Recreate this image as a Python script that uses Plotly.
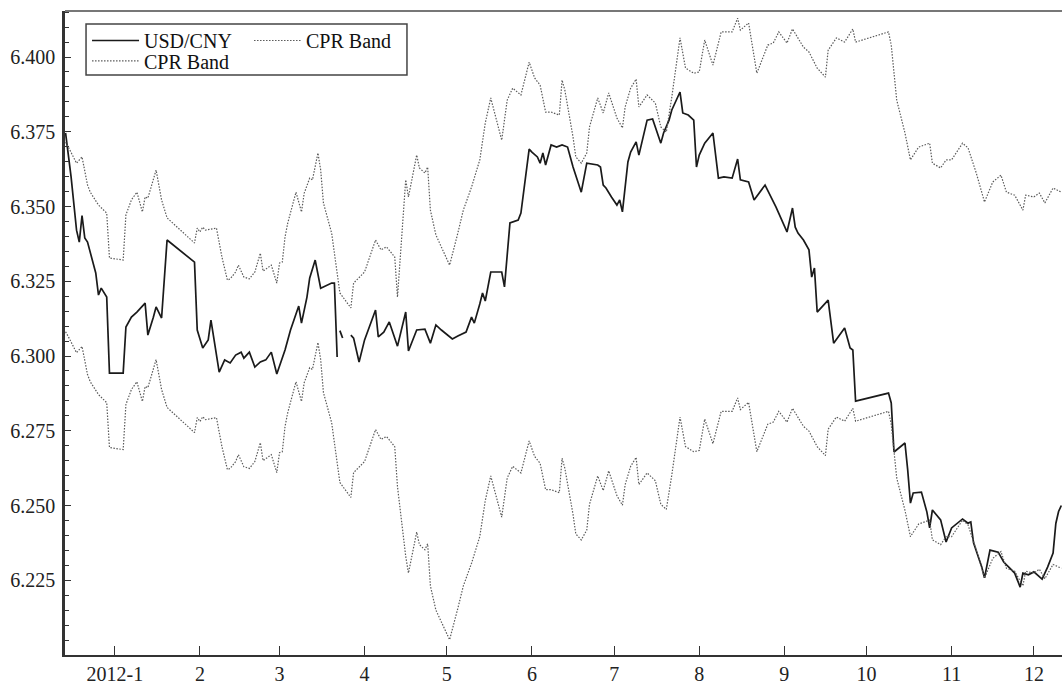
import plotly.graph_objects as go

# ---------------- data ----------------
usd_dates = [
    "2011-12-14", "2011-12-16", "2011-12-18", "2011-12-19", "2011-12-20", "2011-12-21",
    "2011-12-22", "2011-12-23", "2011-12-25", "2011-12-26", "2011-12-27", "2011-12-29",
    "2011-12-30", "2012-01-04", "2012-01-05", "2012-01-07", "2012-01-09", "2012-01-12",
    "2012-01-13", "2012-01-15", "2012-01-16", "2012-01-18", "2012-01-20", "2012-01-30",
    "2012-01-31", "2012-02-02", "2012-02-04", "2012-02-05", "2012-02-08", "2012-02-10",
    "2012-02-12", "2012-02-14", "2012-02-16", "2012-02-17", "2012-02-19", "2012-02-21",
    "2012-02-23", "2012-02-25", "2012-02-27", "2012-02-29", "2012-03-02", "2012-03-03",
    "2012-03-05", "2012-03-08", "2012-03-09", "2012-03-11", "2012-03-12", "2012-03-14",
    "2012-03-16", "2012-03-20", "2012-03-21", "2012-03-22", "2012-03-22 18:00",
    "2012-03-23", "2012-03-24", "2012-03-25",
    "2012-03-27", "2012-03-28", "2012-03-30", "2012-04-01", "2012-04-05", "2012-04-06",
    "2012-04-08", "2012-04-10", "2012-04-11", "2012-04-13", "2012-04-16", "2012-04-17",
    "2012-04-20", "2012-04-23", "2012-04-25", "2012-04-27", "2012-04-29", "2012-05-03",
    "2012-05-05", "2012-05-08", "2012-05-10", "2012-05-11", "2012-05-13", "2012-05-14",
    "2012-05-15", "2012-05-17", "2012-05-21", "2012-05-22", "2012-05-24", "2012-05-27",
    "2012-05-28", "2012-05-31", "2012-06-01", "2012-06-03", "2012-06-04", "2012-06-05",
    "2012-06-06", "2012-06-08", "2012-06-10", "2012-06-12", "2012-06-14", "2012-06-16",
    "2012-06-19", "2012-06-21", "2012-06-25", "2012-06-26", "2012-06-27", "2012-06-28",
    "2012-06-30", "2012-07-02", "2012-07-03", "2012-07-04", "2012-07-06", "2012-07-07",
    "2012-07-09", "2012-07-10", "2012-07-13", "2012-07-15", "2012-07-18", "2012-07-19",
    "2012-07-21", "2012-07-22", "2012-07-25", "2012-07-26", "2012-07-28", "2012-07-30",
    "2012-07-31", "2012-08-01", "2012-08-03", "2012-08-06", "2012-08-08", "2012-08-10",
    "2012-08-13", "2012-08-15", "2012-08-16", "2012-08-19", "2012-08-21", "2012-08-25",
    "2012-08-29", "2012-09-02", "2012-09-04", "2012-09-05", "2012-09-06", "2012-09-08",
    "2012-09-10", "2012-09-11", "2012-09-12", "2012-09-13", "2012-09-17", "2012-09-19",
    "2012-09-23", "2012-09-25", "2012-09-26", "2012-09-27", "2012-10-09", "2012-10-10",
    "2012-10-11", "2012-10-15", "2012-10-16", "2012-10-17", "2012-10-18", "2012-10-21",
    "2012-10-23", "2012-10-24", "2012-10-25", "2012-10-28", "2012-10-30", "2012-11-01",
    "2012-11-05", "2012-11-07", "2012-11-08", "2012-11-09", "2012-11-12", "2012-11-13",
    "2012-11-15", "2012-11-18", "2012-11-20", "2012-11-22", "2012-11-24", "2012-11-26",
    "2012-11-27", "2012-11-29", "2012-12-01", "2012-12-04", "2012-12-06", "2012-12-08",
    "2012-12-09", "2012-12-10", "2012-12-11",
]
usd_cny = [
    6.3746, 6.3600, 6.3421, 6.3381, 6.3470, 6.3395,
    6.3381, 6.3344, 6.3278, 6.3204, 6.3227, 6.3197,
    6.2943, 6.2943, 6.3097, 6.3130, 6.3147, 6.3177,
    6.3070, 6.3130, 6.3164, 6.3127, 6.3388, 6.3314,
    6.3087, 6.3027, 6.3054, 6.3120, 6.2946, 6.2987,
    6.2977, 6.3003, 6.3013, 6.2993, 6.3013, 6.2963,
    6.2980, 6.2987, 6.3013, 6.2940, 6.2997, 6.3020,
    6.3087, 6.3167, 6.3110, 6.3197, 6.3261, 6.3321,
    6.3227, 6.3244, 6.3244, 6.2997, None,
    6.3085, 6.3060, None,
    6.3070, 6.3060, 6.2980, 6.3054, 6.3154, 6.3064,
    6.3080, 6.3114, 6.3087, 6.3033, 6.3147, 6.3017,
    6.3087, 6.3090, 6.3043, 6.3104, 6.3087, 6.3057,
    6.3067, 6.3080, 6.3130, 6.3110, 6.3174, 6.3211,
    6.3184, 6.3281, 6.3281, 6.3231, 6.3445, 6.3455,
    6.3478, 6.3692, 6.3682, 6.3666, 6.3645, 6.3679,
    6.3639, 6.3706, 6.3699, 6.3706, 6.3699, 6.3632,
    6.3548, 6.3645, 6.3639, 6.3632, 6.3572, 6.3562,
    6.3532, 6.3505, 6.3522, 6.3482, 6.3649, 6.3682,
    6.3716, 6.3672, 6.3789, 6.3793, 6.3712, 6.3746,
    6.3789, 6.3823, 6.3883, 6.3813, 6.3806, 6.3789,
    6.3632, 6.3672, 6.3712, 6.3746, 6.3595, 6.3599,
    6.3595, 6.3659, 6.3589, 6.3582, 6.3522, 6.3572,
    6.3498, 6.3415, 6.3495, 6.3431, 6.3411, 6.3388,
    6.3355, 6.3264, 6.3294, 6.3147, 6.3187, 6.3043,
    6.3094, 6.3027, 6.3020, 6.2849, 6.2876, 6.2843,
    6.2679, 6.2709, 6.2619, 6.2508, 6.2542, 6.2545,
    6.2478, 6.2425, 6.2485, 6.2452, 6.2378, 6.2425,
    6.2455, 6.2441, 6.2445, 6.2375, 6.2294, 6.2258,
    6.2351, 6.2344, 6.2311, 6.2294, 6.2274, 6.2227,
    6.2274, 6.2268, 6.2278, 6.2254, 6.2294, 6.2341,
    6.2440, 6.2480, 6.2500,
]

band_dates = [
    "2011-12-14", "2011-12-15", "2011-12-18", "2011-12-20", "2011-12-22", "2011-12-23",
    "2011-12-26", "2011-12-29", "2011-12-30", "2012-01-04", "2012-01-05", "2012-01-07",
    "2012-01-09", "2012-01-11", "2012-01-12", "2012-01-13", "2012-01-16", "2012-01-18",
    "2012-01-20", "2012-01-30", "2012-01-31", "2012-02-01", "2012-02-02", "2012-02-03",
    "2012-02-07", "2012-02-09", "2012-02-11", "2012-02-12", "2012-02-14", "2012-02-15",
    "2012-02-17", "2012-02-19", "2012-02-21", "2012-02-23", "2012-02-24", "2012-02-27",
    "2012-02-29", "2012-03-01", "2012-03-02", "2012-03-03", "2012-03-04", "2012-03-07",
    "2012-03-09", "2012-03-10", "2012-03-12", "2012-03-13", "2012-03-15", "2012-03-16",
    "2012-03-17", "2012-03-20", "2012-03-23", "2012-03-27", "2012-03-28", "2012-04-01",
    "2012-04-05", "2012-04-07", "2012-04-09", "2012-04-12", "2012-04-13",
    "2012-04-16", "2012-04-17", "2012-04-20", "2012-04-21", "2012-04-23", "2012-04-24",
    "2012-04-25", "2012-04-27", "2012-05-02", "2012-05-05", "2012-05-07", "2012-05-10",
    "2012-05-13", "2012-05-15", "2012-05-17", "2012-05-21", "2012-05-23", "2012-05-25",
    "2012-05-28", "2012-05-31", "2012-06-02", "2012-06-04", "2012-06-05", "2012-06-06",
    "2012-06-08", "2012-06-11", "2012-06-12", "2012-06-13", "2012-06-16", "2012-06-17",
    "2012-06-19", "2012-06-21", "2012-06-22", "2012-06-25", "2012-06-27", "2012-06-29",
    "2012-07-02", "2012-07-04", "2012-07-05", "2012-07-07", "2012-07-09", "2012-07-10",
    "2012-07-13", "2012-07-16", "2012-07-18", "2012-07-20", "2012-07-22", "2012-07-25",
    "2012-07-27", "2012-07-30", "2012-08-01", "2012-08-03", "2012-08-06", "2012-08-09",
    "2012-08-13", "2012-08-15", "2012-08-16", "2012-08-19", "2012-08-22", "2012-08-26",
    "2012-08-28", "2012-08-30", "2012-09-02", "2012-09-04", "2012-09-08", "2012-09-10",
    "2012-09-13", "2012-09-16", "2012-09-17", "2012-09-20", "2012-09-23", "2012-09-26",
    "2012-09-27", "2012-10-09", "2012-10-10", "2012-10-12", "2012-10-15", "2012-10-17",
    "2012-10-20", "2012-10-24", "2012-10-25", "2012-10-28", "2012-10-30", "2012-11-01",
    "2012-11-05", "2012-11-07", "2012-11-10", "2012-11-13", "2012-11-16", "2012-11-19",
    "2012-11-21", "2012-11-24", "2012-11-27", "2012-11-28", "2012-12-01", "2012-12-03",
    "2012-12-05", "2012-12-08", "2012-12-11",
]
cpr_upper = [
    6.3715, 6.3699, 6.3645, 6.3666, 6.3572, 6.3548,
    6.3505, 6.3478, 6.3328, 6.3321, 6.3472, 6.3522,
    6.3548, 6.3482, 6.3532, 6.3528, 6.3622, 6.3522,
    6.3462, 6.3378, 6.3428, 6.3415, 6.3431, 6.3421,
    6.3428, 6.3331, 6.3254, 6.3258, 6.3281, 6.3304,
    6.3264, 6.3258, 6.3281, 6.3344, 6.3284, 6.3304,
    6.3244, 6.3311, 6.3314, 6.3398, 6.3445, 6.3548,
    6.3482, 6.3545, 6.3595, 6.3589, 6.3679, 6.3622,
    6.3512, 6.3411, 6.3211, 6.3161, 6.3244, 6.3281,
    6.3388, 6.3355, 6.3365, 6.3331, 6.3197,
    6.3589, 6.3532, 6.3672, 6.3629, 6.3612, 6.3632,
    6.3488, 6.3405, 6.3304, 6.3411, 6.3488, 6.3565,
    6.3656, 6.3779, 6.3863, 6.3722, 6.3856, 6.3896,
    6.3873, 6.3983, 6.3930, 6.3906, 6.3863, 6.3816,
    6.3816, 6.3806, 6.3923, 6.3890, 6.3732, 6.3666,
    6.3645, 6.3679, 6.3766, 6.3863, 6.3813, 6.3880,
    6.3796, 6.3763, 6.3833, 6.3896, 6.3926, 6.3833,
    6.3873, 6.3846, 6.3766, 6.3749, 6.3866, 6.4064,
    6.3963, 6.3946, 6.3950, 6.4057, 6.3973, 6.4084,
    6.4084, 6.4130, 6.4090, 6.4114, 6.3946, 6.4040,
    6.4047, 6.4084, 6.4047, 6.4094, 6.4033, 6.4017,
    6.3963, 6.3933, 6.4023, 6.4064, 6.4050, 6.4094,
    6.4050, 6.4084, 6.4040, 6.3856, 6.3746, 6.3656,
    6.3699, 6.3712, 6.3645, 6.3629, 6.3656, 6.3656,
    6.3712, 6.3696, 6.3612, 6.3515, 6.3582, 6.3605,
    6.3548, 6.3538, 6.3488, 6.3538, 6.3532, 6.3545,
    6.3512, 6.3562, 6.3548,
]
cpr_lower = [
    6.3081, 6.3065, 6.3011, 6.3032, 6.2938, 6.2914,
    6.2871, 6.2844, 6.2694, 6.2687, 6.2838, 6.2888,
    6.2914, 6.2848, 6.2898, 6.2894, 6.2988, 6.2888,
    6.2828, 6.2744, 6.2794, 6.2781, 6.2797, 6.2787,
    6.2794, 6.2697, 6.2620, 6.2624, 6.2647, 6.2670,
    6.2630, 6.2624, 6.2647, 6.2710, 6.2650, 6.2670,
    6.2610, 6.2677, 6.2680, 6.2764, 6.2811, 6.2914,
    6.2848, 6.2911, 6.2961, 6.2955, 6.3045, 6.2988,
    6.2878, 6.2777, 6.2577, 6.2527, 6.2610, 6.2647,
    6.2754, 6.2721, 6.2731, 6.2697, 6.2563,
    6.2330, 6.2274, 6.2411, 6.2369, 6.2352, 6.2372,
    6.2231, 6.2150, 6.2051, 6.2156, 6.2231, 6.2307,
    6.2396, 6.2516, 6.2599, 6.2461, 6.2592, 6.2631,
    6.2609, 6.2716, 6.2664, 6.2641, 6.2599, 6.2553,
    6.2553, 6.2543, 6.2658, 6.2625, 6.2470, 6.2405,
    6.2385, 6.2418, 6.2504, 6.2599, 6.2550, 6.2616,
    6.2533, 6.2501, 6.2570, 6.2631, 6.2661, 6.2570,
    6.2609, 6.2583, 6.2504, 6.2487, 6.2602, 6.2796,
    6.2697, 6.2680, 6.2684, 6.2789, 6.2707, 6.2815,
    6.2815, 6.2860, 6.2821, 6.2845, 6.2680, 6.2772,
    6.2779, 6.2815, 6.2779, 6.2825, 6.2765, 6.2749,
    6.2697, 6.2667, 6.2755, 6.2796, 6.2782, 6.2825,
    6.2782, 6.2815, 6.2772, 6.2592, 6.2484, 6.2396,
    6.2438, 6.2451, 6.2385, 6.2369, 6.2396, 6.2396,
    6.2451, 6.2435, 6.2352, 6.2257, 6.2323, 6.2346,
    6.2290, 6.2280, 6.2231, 6.2280, 6.2274, 6.2287,
    6.2255, 6.2303, 6.2290,
]

tick_dates = ["2012-01-01", "2012-02-01", "2012-03-01", "2012-04-01", "2012-05-01",
              "2012-06-01", "2012-07-01", "2012-08-01", "2012-09-01", "2012-10-01",
              "2012-11-01", "2012-12-01"]
tick_labels = ["2012-1", "2", "3", "4", "5", "6", "7", "8", "9", "10", "11", "12"]
y_ticks = [6.225, 6.250, 6.275, 6.300, 6.325, 6.350, 6.375, 6.400]

# ---------------- figure ----------------
FONT = "Liberation Serif, Times New Roman, serif"
band_style = dict(color="#5a5a5a", width=1.2, dash="1.5px,1.5px")

fig = go.Figure()
fig.add_trace(go.Scatter(x=usd_dates, y=usd_cny, mode="lines", name="USD/CNY",
                         line=dict(color="#1a1a1a", width=1.7), connectgaps=False,
                         legend="legend", legendwidth=100))
fig.add_trace(go.Scatter(x=band_dates, y=cpr_upper, mode="lines", name="CPR Band",
                         line=band_style, legend="legend"))
fig.add_trace(go.Scatter(x=band_dates, y=cpr_lower, mode="lines", name="CPR Band",
                         line=band_style, legend="legend2"))

fig.update_layout(
    width=1062, height=684,
    margin=dict(l=65, r=0, t=11, b=29),
    paper_bgcolor="white", plot_bgcolor="white",
    font=dict(family=FONT, size=20, color="#222"),
    showlegend=True,
    legend=dict(orientation="h", x=0.0221, y=0.9845, xanchor="left", yanchor="top",
                bgcolor="rgba(0,0,0,0)", borderwidth=0,
                font=dict(family=FONT, size=20, color="#111"),
                itemwidth=47),
    legend2=dict(orientation="h", x=0.0221, y=0.9528, xanchor="left", yanchor="top",
                 bgcolor="rgba(0,0,0,0)", borderwidth=0,
                 font=dict(family=FONT, size=20, color="#111"),
                 itemwidth=47),
    xaxis=dict(
        type="date",
        range=["2011-12-13 19:00", "2012-12-11 06:00"],
        tickmode="array", tickvals=tick_dates, ticktext=tick_labels,
        ticks="inside", ticklen=9, tickwidth=1.3, tickcolor="#333",
        showline=True, linecolor="#333", linewidth=2,
        showgrid=False, zeroline=False, automargin=False,
        tickfont=dict(family=FONT, size=20, color="#222"),
    ),
    yaxis=dict(
        range=[6.2, 6.4154],
        tickmode="array", tickvals=y_ticks, tickformat=".3f",
        ticks="inside", ticklen=6, tickwidth=1.3, tickcolor="#333",
        minor=dict(tick0=6.2, dtick=0.005, ticks="inside", ticklen=4,
                   tickwidth=1, tickcolor="#333", showgrid=False),
        showline=True, linecolor="#333", linewidth=2.5,
        showgrid=False, zeroline=False, ticklabelstandoff=3, automargin=False,
        tickfont=dict(family=FONT, size=20, color="#222"),
    ),
    shapes=[
        dict(type="line", xref="paper", yref="paper", x0=0, x1=1, y0=1, y1=1,
             line=dict(color="#777", width=2)),
        dict(type="rect", xref="paper", yref="paper",
             x0=0.0211, x1=0.343, y0=0.9006, y1=0.9798,
             line=dict(color="#444", width=1.5), fillcolor="white", layer="above"),
    ],
)

fig.write_html("out.html", config={"displayModeBar": False},
               post_script="document.body.style.margin='0';document.body.style.overflow='hidden';")
